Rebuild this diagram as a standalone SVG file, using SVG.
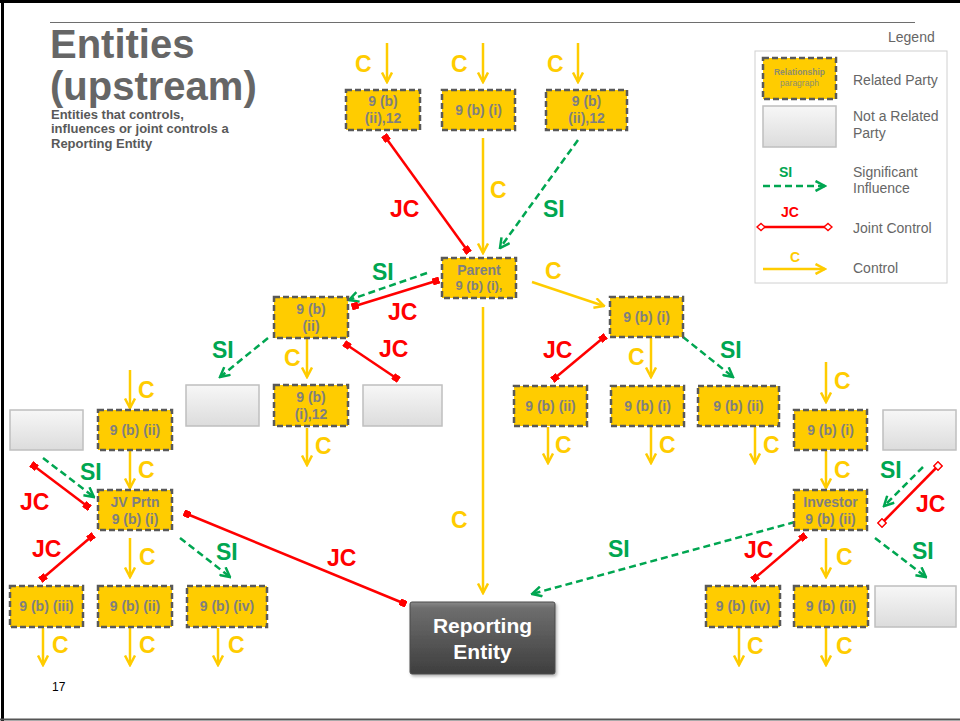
<svg xmlns="http://www.w3.org/2000/svg" width="960" height="721" viewBox="0 0 960 721">
<style>
text{font-family:"Liberation Sans",Arial,Helvetica,sans-serif}
.yb{fill:#FFCC00;stroke:#595959;stroke-width:2.5;stroke-dasharray:6 3}
.gb{fill:url(#gg);stroke:#BFBFBF;stroke-width:1.5}
.bt{font-weight:bold;font-size:14px;fill:#7F7F7F;text-anchor:middle}
.lab{font-weight:bold;font-size:23px}
.lc{fill:#FFCC00}
.ljc{fill:#FF0000}
.lsi{fill:#00A651}
.cl{stroke:#FFCC00;stroke-width:2.5;fill:none;marker-end:url(#ay)}
.si{stroke:#00A651;stroke-width:2.5;fill:none;stroke-dasharray:7 4;marker-end:url(#ag)}
.jc{stroke:#FF0000;stroke-width:2.5;fill:none;marker-start:url(#sq);marker-end:url(#sq)}
.jch{stroke:#FF0000;stroke-width:2.5;fill:none;marker-start:url(#sqh);marker-end:url(#sqh)}
.lg{font-size:14px;fill:#666666}
.sub{font-size:13px;font-weight:bold;fill:#595959}
</style>
<defs>
<linearGradient id="gg" x1="0" y1="0" x2="0" y2="1">
<stop offset="0" stop-color="#F7F7F7"/>
<stop offset="1" stop-color="#DCDCDC"/>
</linearGradient>
<linearGradient id="rg" x1="0" y1="0" x2="0" y2="1">
<stop offset="0" stop-color="#8A8A8A"/>
<stop offset="0.08" stop-color="#6E6E6E"/>
<stop offset="1" stop-color="#3E3E3E"/>
</linearGradient>
<filter id="sh" x="-10%" y="-10%" width="130%" height="130%">
<feDropShadow dx="1.5" dy="2" stdDeviation="1.5" flood-color="#000" flood-opacity="0.3"/>
</filter>
<marker id="ay" viewBox="0 0 12 12" refX="10.5" refY="6" markerWidth="12" markerHeight="12" markerUnits="userSpaceOnUse" orient="auto">
<path d="M1,1 L10.5,6 L1,11" fill="none" stroke="#FFCC00" stroke-width="2.5" stroke-dasharray="none"/>
</marker>
<marker id="ag" viewBox="0 0 12 12" refX="10.5" refY="6" markerWidth="12" markerHeight="12" markerUnits="userSpaceOnUse" orient="auto">
<path d="M1,1 L10.5,6 L1,11" fill="none" stroke="#00A651" stroke-width="2.5" stroke-dasharray="none"/>
</marker>
<marker id="sq" viewBox="0 0 7 7" refX="3.5" refY="3.5" markerWidth="7" markerHeight="7" markerUnits="userSpaceOnUse" orient="auto">
<rect x="0" y="0" width="7" height="7" fill="#FF0000"/>
</marker>
<marker id="sqh" viewBox="0 0 8 8" refX="4" refY="4" markerWidth="8" markerHeight="8" markerUnits="userSpaceOnUse" orient="auto">
<rect x="1" y="1" width="6" height="6" fill="#FFFFFF" stroke="#FF0000" stroke-width="1.5"/>
</marker>
<marker id="dm" viewBox="0 0 10 10" refX="5" refY="5" markerWidth="10" markerHeight="10" markerUnits="userSpaceOnUse" orient="auto">
<path d="M1,5 L5,1.5 L9,5 L5,8.5 Z" fill="#FFFFFF" stroke="#FF0000" stroke-width="1.5"/>
</marker>
</defs>
<rect x="0" y="0" width="960" height="721" fill="#FFFFFF"/>
<!-- frame -->
<line x1="0" y1="1.5" x2="960" y2="1.5" stroke="#000" stroke-width="3"/>
<line x1="2.5" y1="0" x2="2.5" y2="721" stroke="#000" stroke-width="3"/>
<line x1="0" y1="719.5" x2="960" y2="719.5" stroke="#555" stroke-width="2"/>
<line x1="50" y1="22.5" x2="915" y2="22.5" stroke="#6E6E6E" stroke-width="1"/>
<!-- title -->
<g id="title">
<text x="50" y="58" font-size="40" font-weight="bold" fill="#666666">Entities</text>
<text x="50" y="100" font-size="40" font-weight="bold" fill="#666666">(upstream)</text>
<text x="51" y="118.5" class="sub">Entities that controls,</text>
<text x="51" y="133" class="sub">influences or joint controls a</text>
<text x="51" y="147.5" class="sub">Reporting Entity</text>
</g>
<!-- legend -->
<g id="legend">
<text x="888" y="42" class="lg">Legend</text>
<rect x="755" y="51" width="192" height="232" fill="#FFFFFF" stroke="#D0D0D0" stroke-width="1"/>
<rect x="763" y="58" width="73" height="41" class="yb"/>
<text x="799.5" y="75" font-size="8.5" font-weight="bold" fill="#8C8C6E" text-anchor="middle">Relationship</text>
<text x="799.5" y="86" font-size="8.5" fill="#8C8C6E" text-anchor="middle">paragraph</text>
<text x="853" y="85" class="lg">Related Party</text>
<rect x="763" y="106" width="73" height="41" class="gb"/>
<text x="853" y="121" class="lg">Not a Related</text>
<text x="853" y="138" class="lg">Party</text>
<text x="779" y="177" font-size="14" font-weight="bold" fill="#00A651">SI</text>
<line x1="763" y1="186" x2="825" y2="186" class="si"/>
<text x="853" y="177" class="lg">Significant</text>
<text x="853" y="193" class="lg">Influence</text>
<text x="781" y="217" font-size="14" font-weight="bold" fill="#FF0000">JC</text>
<line x1="761" y1="227" x2="828" y2="227" stroke="#FF0000" stroke-width="2.5" marker-start="url(#dm)" marker-end="url(#dm)"/>
<text x="853" y="233" class="lg">Joint Control</text>
<text x="790" y="262" font-size="14" font-weight="bold" fill="#FFCC00">C</text>
<line x1="763" y1="269" x2="825" y2="269" class="cl"/>
<text x="853" y="273" class="lg">Control</text>
</g>
<!-- connectors -->
<g id="connectors">
<line x1="387" y1="43" x2="387" y2="82" class="cl"/>
<line x1="483" y1="43" x2="483" y2="82" class="cl"/>
<line x1="578" y1="43" x2="578" y2="82" class="cl"/>
<line x1="483" y1="138" x2="483" y2="253" class="cl"/>
<line x1="532" y1="282" x2="604" y2="306" class="cl"/>
<line x1="483" y1="307" x2="483" y2="593" class="cl"/>
<line x1="307" y1="339" x2="307" y2="377" class="cl"/>
<line x1="307" y1="428" x2="307" y2="465" class="cl"/>
<line x1="651" y1="338" x2="651" y2="377" class="cl"/>
<line x1="548" y1="427" x2="548" y2="463" class="cl"/>
<line x1="651" y1="427" x2="651" y2="463" class="cl"/>
<line x1="755" y1="427" x2="755" y2="463" class="cl"/>
<line x1="130" y1="370" x2="130" y2="408" class="cl"/>
<line x1="130" y1="451" x2="130" y2="488" class="cl"/>
<line x1="130" y1="538" x2="130" y2="577" class="cl"/>
<line x1="43" y1="628" x2="43" y2="665" class="cl"/>
<line x1="130" y1="628" x2="130" y2="665" class="cl"/>
<line x1="218" y1="628" x2="218" y2="665" class="cl"/>
<line x1="826" y1="362" x2="826" y2="402" class="cl"/>
<line x1="826" y1="451" x2="826" y2="488" class="cl"/>
<line x1="826" y1="538" x2="826" y2="577" class="cl"/>
<line x1="739" y1="628" x2="739" y2="665" class="cl"/>
<line x1="826" y1="628" x2="826" y2="665" class="cl"/>
<line x1="578" y1="140" x2="500" y2="248" class="si"/>
<line x1="427" y1="273" x2="349" y2="300" class="si"/>
<line x1="268" y1="338" x2="220" y2="377" class="si"/>
<line x1="683" y1="337" x2="733" y2="377" class="si"/>
<line x1="43" y1="458" x2="94" y2="497" class="si"/>
<line x1="180" y1="538" x2="230" y2="577" class="si"/>
<line x1="923" y1="467" x2="884" y2="506" class="si"/>
<line x1="795" y1="522" x2="532" y2="594" class="si"/>
<line x1="875" y1="538" x2="926" y2="577" class="si"/>
<line x1="386" y1="138" x2="467" y2="250" class="jc"/>
<line x1="436" y1="281" x2="355" y2="306" class="jc"/>
<line x1="347" y1="345" x2="396" y2="378" class="jc"/>
<line x1="603" y1="338" x2="555" y2="378" class="jc"/>
<line x1="34" y1="466" x2="87" y2="506" class="jc"/>
<line x1="187" y1="514" x2="403" y2="603" class="jc"/>
<line x1="43" y1="578" x2="91" y2="537" class="jc"/>
<line x1="803" y1="537" x2="755" y2="578" class="jc"/>
<line x1="938" y1="466" x2="882" y2="523" class="jch"/>
</g>
<!-- connector labels -->
<g id="labels" class="lab">
<text x="355" y="72" class="lc">C</text>
<text x="451" y="72" class="lc">C</text>
<text x="547" y="72" class="lc">C</text>
<text x="490" y="198" class="lc">C</text>
<text x="545" y="279" class="lc">C</text>
<text x="284" y="366" class="lc">C</text>
<text x="315" y="454" class="lc">C</text>
<text x="628" y="365" class="lc">C</text>
<text x="555" y="453" class="lc">C</text>
<text x="659" y="453" class="lc">C</text>
<text x="763" y="453" class="lc">C</text>
<text x="138" y="398" class="lc">C</text>
<text x="138" y="478" class="lc">C</text>
<text x="139" y="565" class="lc">C</text>
<text x="52" y="653" class="lc">C</text>
<text x="139" y="653" class="lc">C</text>
<text x="228" y="653" class="lc">C</text>
<text x="451" y="528" class="lc">C</text>
<text x="834" y="389" class="lc">C</text>
<text x="834" y="478" class="lc">C</text>
<text x="836" y="565" class="lc">C</text>
<text x="747" y="654" class="lc">C</text>
<text x="836" y="654" class="lc">C</text>
<text x="390" y="217" class="ljc">JC</text>
<text x="388" y="320" class="ljc">JC</text>
<text x="379" y="357" class="ljc">JC</text>
<text x="543" y="358" class="ljc">JC</text>
<text x="20" y="510" class="ljc">JC</text>
<text x="32" y="557" class="ljc">JC</text>
<text x="327" y="566" class="ljc">JC</text>
<text x="744" y="558" class="ljc">JC</text>
<text x="916" y="512" class="ljc">JC</text>
<text x="543" y="217" class="lsi">SI</text>
<text x="372" y="280" class="lsi">SI</text>
<text x="212" y="358" class="lsi">SI</text>
<text x="720" y="358" class="lsi">SI</text>
<text x="80" y="480" class="lsi">SI</text>
<text x="216" y="560" class="lsi">SI</text>
<text x="880" y="478" class="lsi">SI</text>
<text x="608" y="557" class="lsi">SI</text>
<text x="912" y="559" class="lsi">SI</text>
</g>
<!-- nodes -->
<g id="n_top1"><rect x="346" y="90" width="74" height="40" class="yb"/><text x="383" y="106" class="bt">9 (b)</text><text x="383" y="123" class="bt">(ii),12</text></g>
<g id="n_top2"><rect x="442" y="90" width="73" height="40" class="yb"/><text x="478.5" y="115" class="bt">9 (b) (i)</text></g>
<g id="n_top3"><rect x="546" y="90" width="81" height="40" class="yb"/><text x="586.5" y="106" class="bt">9 (b)</text><text x="586.5" y="123" class="bt">(ii),12</text></g>
<g id="n_parent"><rect x="442" y="258" width="74" height="40" class="yb"/><text x="479" y="275" class="bt" font-size="12">Parent</text><text x="479" y="290" class="bt" style="font-size:13px">9 (b) (i),</text></g>
<g id="n_l1"><rect x="274" y="297" width="74" height="41" class="yb"/><text x="311" y="314" class="bt">9 (b)</text><text x="311" y="331" class="bt">(ii)</text></g>
<g id="n_l2"><rect x="274" y="385" width="74" height="41" class="yb"/><text x="311" y="402" class="bt">9 (b)</text><text x="311" y="419" class="bt">(i),12</text></g>
<g id="g_l1"><rect x="186" y="385" width="73" height="41" class="gb"/></g>
<g id="g_l2"><rect x="363" y="385" width="79" height="41" class="gb"/></g>
<g id="n_r1"><rect x="610" y="297" width="73" height="40" class="yb"/><text x="646.5" y="322" class="bt">9 (b) (i)</text></g>
<g id="n_r2"><rect x="514" y="386" width="73" height="40" class="yb"/><text x="550.5" y="411" class="bt">9 (b) (ii)</text></g>
<g id="n_r3"><rect x="611" y="386" width="73" height="40" class="yb"/><text x="647.5" y="411" class="bt">9 (b) (i)</text></g>
<g id="n_r4"><rect x="698" y="386" width="81" height="40" class="yb"/><text x="738.5" y="411" class="bt">9 (b) (ii)</text></g>
<g id="g_left"><rect x="10" y="410" width="73" height="40" class="gb"/></g>
<g id="n_jv1"><rect x="98" y="410" width="74" height="40" class="yb"/><text x="135" y="435" class="bt">9 (b) (ii)</text></g>
<g id="n_jv"><rect x="98" y="490" width="74" height="40" class="yb"/><text x="135" y="507" class="bt">JV Prtn</text><text x="135" y="524" class="bt">9 (b) (i)</text></g>
<g id="n_b1"><rect x="10" y="586" width="73" height="41" class="yb"/><text x="46.5" y="611" class="bt">9 (b) (iii)</text></g>
<g id="n_b2"><rect x="98" y="586" width="74" height="41" class="yb"/><text x="135" y="611" class="bt">9 (b) (ii)</text></g>
<g id="n_b3"><rect x="187" y="586" width="80" height="41" class="yb"/><text x="227" y="611" class="bt">9 (b) (iv)</text></g>
<g id="n_ri1"><rect x="794" y="410" width="73" height="40" class="yb"/><text x="830.5" y="435" class="bt">9 (b) (i)</text></g>
<g id="g_r1"><rect x="883" y="410" width="73" height="40" class="gb"/></g>
<g id="n_inv"><rect x="794" y="490" width="73" height="40" class="yb"/><text x="830.5" y="507" class="bt">Investor</text><text x="830.5" y="524" class="bt">9 (b) (ii)</text></g>
<g id="n_rb1"><rect x="706" y="586" width="74" height="41" class="yb"/><text x="743" y="611" class="bt">9 (b) (iv)</text></g>
<g id="n_rb2"><rect x="794" y="586" width="74" height="41" class="yb"/><text x="831" y="611" class="bt">9 (b) (ii)</text></g>
<g id="g_rb"><rect x="875" y="586" width="81" height="41" class="gb"/></g>
<g id="n_reporting"><rect x="410" y="602" width="145" height="72" rx="2" fill="url(#rg)" stroke="#4A4A4A" stroke-width="1" filter="url(#sh)"/><text x="482.5" y="633" font-size="21" font-weight="bold" fill="#FFFFFF" text-anchor="middle">Reporting</text><text x="482.5" y="659" font-size="21" font-weight="bold" fill="#FFFFFF" text-anchor="middle">Entity</text></g>
<text x="52" y="691" font-size="12" fill="#000000">17</text>
</svg>
